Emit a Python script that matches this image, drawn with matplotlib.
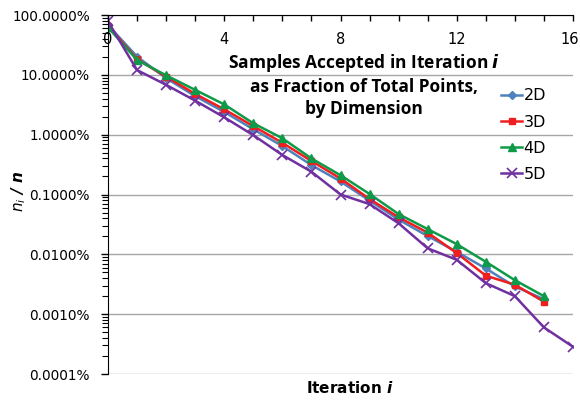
import matplotlib
matplotlib.use("Agg")
import matplotlib.pyplot as plt
import matplotlib.transforms as mtransforms
from matplotlib.ticker import FuncFormatter, LogLocator, MultipleLocator

iters_4 = list(range(16))
iters_5 = list(range(17))
pct_2d = [68, 20.1, 8.8, 4.4, 2.4, 1.23, 0.645, 0.31, 0.165, 0.079, 0.038, 0.0202, 0.011, 0.0058, 0.0029, 0.00178]
pct_3d = [66, 18.2, 9.3, 4.8, 2.65, 1.39, 0.73, 0.363, 0.185, 0.084, 0.0416, 0.023, 0.0105, 0.0044, 0.0031, 0.00162]
pct_4d = [62, 17.7, 9.8, 5.6, 3.2, 1.55, 0.87, 0.40, 0.21, 0.102, 0.047, 0.0264, 0.0148, 0.0075, 0.0037, 0.0020]
pct_5d = [78, 12.0, 6.8, 3.7, 1.95, 0.98, 0.457, 0.24, 0.10, 0.069, 0.033, 0.0126, 0.0081, 0.0033, 0.0020, 0.0006, 0.000285]
series_names = ["2D", "3D", "4D", "5D"]
x_ticks = [0, 4, 8, 12, 16]
y_ticks = [1e-4, 1e-3, 1e-2, 1e-1, 1, 10, 100]

fig = plt.figure(figsize=(5.8, 4.0), dpi=100)
ax = fig.add_axes([108/580, 1-374/400, (573-108)/580, (374-15)/400])

styles = [
    dict(color="#4F81BD", marker="D", ms=4.5),
    dict(color="#F01E1E", marker="s", ms=5),
    dict(color="#0E9A48", marker="^", ms=6),
    dict(color="#7030A0", marker="x", ms=7, mew=1.2),
]
data = [(iters_4, pct_2d), (iters_4, pct_3d), (iters_4, pct_4d), (iters_5, pct_5d)]
for (xs, ys), name, st in zip(data, series_names, styles):
    ax.plot(xs, ys, lw=1.8, label=name, **st)

ax.set_yscale("log")
ax.set_ylim(1e-4, 100)
ax.set_xlim(0, 16)
ax.set_yticks(y_ticks)
ax.yaxis.set_major_formatter(FuncFormatter(lambda v, p: f"{v:.4f}%"))
ax.yaxis.set_minor_locator(LogLocator(base=10, subs=range(2, 10), numticks=20))
ax.yaxis.set_minor_formatter(FuncFormatter(lambda v, p: ""))
ax.tick_params(axis="y", which="major", direction="out", length=5, width=1, labelsize=9.8, pad=8)
ax.tick_params(axis="y", which="minor", direction="out", length=4, width=0.8)

ax.set_xticks(x_ticks)
ax.xaxis.set_minor_locator(MultipleLocator(1))
ax.xaxis.set_ticks_position("top")
ax.tick_params(axis="x", which="both", direction="in", length=4, width=1,
               top=True, bottom=False, labeltop=True, labelbottom=False,
               labelsize=10.5, pad=-23)

ax.grid(axis="y", which="major", color="#A6A6A6", lw=1)
ax.set_axisbelow(True)
for s in ["right", "bottom"]:
    ax.spines[s].set_visible(False)
ax.spines["left"].set_color("black")
ax.spines["top"].set_color("black")

ax.set_xlabel("Iteration $\\boldsymbol{i}$", fontsize=11, fontweight="bold", labelpad=2)
ax.xaxis.set_label_coords(0.52, -0.018)
ax.set_ylabel("$\\boldsymbol{n_i}$ / $\\boldsymbol{n}$", fontsize=11, fontweight="bold", style="italic")
ax.yaxis.set_label_coords(-0.172, 0.51)

fig.text(364/580, 1-85/400, "Samples Accepted in Iteration $\\boldsymbol{i}$\nas Fraction of Total Points,\nby Dimension",
         ha="center", va="center", fontsize=12.5, fontweight="bold", family="Open Sans", linespacing=1.3)

leg = ax.legend(loc="upper left", bbox_to_anchor=(495/580, 1-82/400), bbox_transform=fig.transFigure,
                frameon=False, fontsize=11.5, handlelength=1.3, handletextpad=0.1,
                labelspacing=0.7, borderaxespad=0)

fig.canvas.draw()
last = ax.get_xticklabels()[-1]
last.set_transform(last.get_transform() + mtransforms.ScaledTranslation(-3/100, 0, fig.dpi_scale_trans))

fig.savefig("out.png", dpi=100)
